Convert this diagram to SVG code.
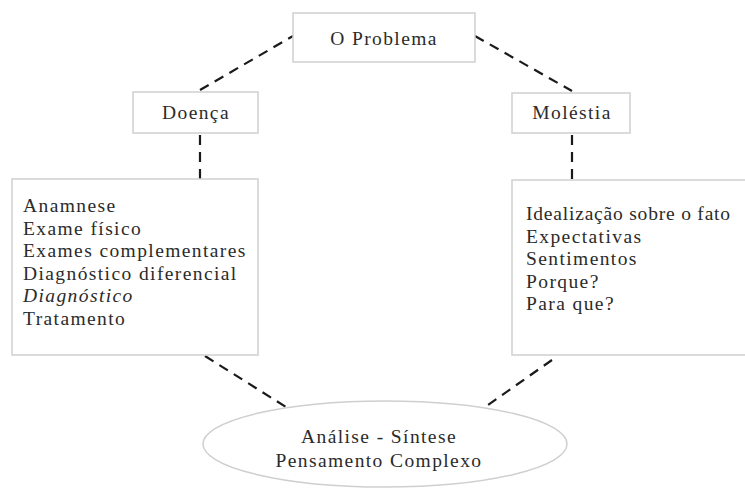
<svg xmlns="http://www.w3.org/2000/svg" width="745" height="488" viewBox="0 0 745 488">
<style>
.box{fill:#ffffff;stroke:#cfcfcf;stroke-width:1.5}
.t{font-family:"Liberation Serif",serif;font-size:19.5px;fill:#2b2b2b;letter-spacing:1.4px}
.c{text-anchor:middle}
.dash{stroke:#1a1a1a;stroke-width:2.2;stroke-dasharray:10,7;fill:none}
</style>
<rect width="745" height="488" fill="#ffffff"/>
<g id="connectors">
<line class="dash" x1="200" y1="90" x2="293" y2="36"/>
<line class="dash" x1="475" y1="36" x2="572" y2="91"/>
<line class="dash" x1="200" y1="135" x2="200" y2="179"/>
<line class="dash" x1="572" y1="135" x2="572" y2="180"/>
<line class="dash" x1="205" y1="356" x2="286" y2="407"/>
<line class="dash" x1="552" y1="360" x2="485" y2="407"/>
</g>
<g id="problema">
<rect class="box" x="293" y="13" width="182" height="49"/>
<text class="t c" x="384" y="45">O Problema</text>
</g>
<g id="doenca">
<rect class="box" x="133" y="92" width="125" height="41"/>
<text class="t c" x="196" y="119">Doença</text>
</g>
<g id="molestia">
<rect class="box" x="512" y="93" width="118" height="40"/>
<text class="t c" x="572" y="119">Moléstia</text>
</g>
<g id="doenca-itens">
<rect class="box" x="12" y="179" width="246" height="176"/>
<text class="t" x="23" y="212">Anamnese</text>
<text class="t" x="23" y="234.5">Exame físico</text>
<text class="t" x="23" y="257">Exames complementares</text>
<text class="t" x="23" y="279.5">Diagnóstico diferencial</text>
<text class="t" x="23" y="302" style="font-style:italic">Diagnóstico</text>
<text class="t" x="23" y="324.5">Tratamento</text>
</g>
<g id="molestia-itens">
<rect class="box" x="512" y="180" width="240" height="175"/>
<text class="t" x="526" y="220" style="letter-spacing:0.8px">Idealização sobre o fato</text>
<text class="t" x="526" y="242.5">Expectativas</text>
<text class="t" x="526" y="265">Sentimentos</text>
<text class="t" x="526" y="287.5">Porque?</text>
<text class="t" x="526" y="310">Para que?</text>
</g>
<g id="analise">
<ellipse class="box" cx="385" cy="444" rx="182" ry="43"/>
<text class="t c" x="379" y="443">Análise - Síntese</text>
<text class="t c" x="379" y="467">Pensamento Complexo</text>
</g>
</svg>
